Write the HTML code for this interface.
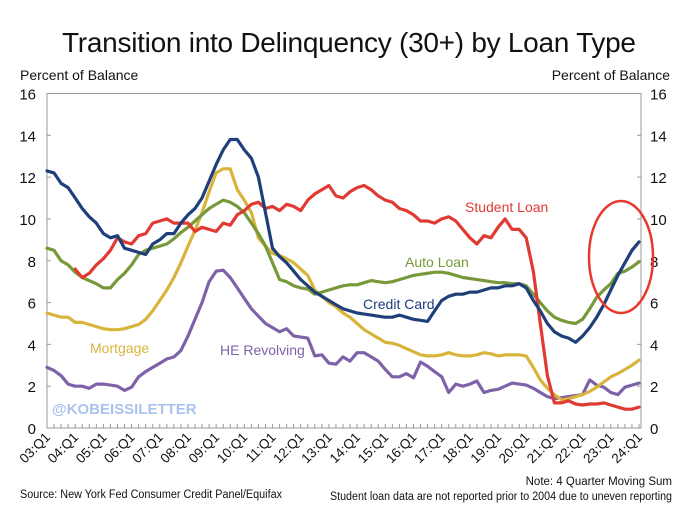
<!DOCTYPE html>
<html><head><meta charset="utf-8"><style>
body{margin:0;background:#fff;}
svg text{font-family:"Liberation Sans",Arial,sans-serif;}
</style></head><body>
<svg width="680" height="507" viewBox="0 0 680 507">
<text x="349" y="52" font-size="28" text-anchor="middle" fill="#111" textLength="574">Transition into Delinquency (30+) by Loan Type</text>
<text x="20" y="80" font-size="14" fill="#111">Percent of Balance</text>
<text x="670" y="80" font-size="14" fill="#111" text-anchor="end">Percent of Balance</text>
<g id="axes"></g>
<g id="series"></g>
<text x="52" y="414" font-size="15" font-weight="bold" fill="#aac2ee">@KOBEISSILETTER</text>
<text x="465" y="212" font-size="14" fill="#e03a33">Student Loan</text>
<text x="405" y="267" font-size="14" fill="#77993a">Auto Loan</text>
<text x="363" y="309" font-size="14" fill="#1f3f7a">Credit Card</text>
<text x="90" y="353" font-size="14" fill="#d9b43c">Mortgage</text>
<text x="220" y="355" font-size="14" fill="#7d62a8">HE Revolving</text>
<ellipse cx="621" cy="257" rx="32" ry="56" fill="none" stroke="#e8392e" stroke-width="2.5"/>
<text x="20" y="498" font-size="11.5" fill="#111" textLength="262" lengthAdjust="spacingAndGlyphs">Source: New York Fed Consumer Credit Panel/Equifax</text>
<text x="672" y="485" font-size="11.5" fill="#111" text-anchor="end">Note: 4 Quarter Moving Sum</text>
<text x="330" y="500" font-size="11.5" fill="#111" textLength="342" lengthAdjust="spacingAndGlyphs">Student loan data are not reported prior to 2004 due to uneven reporting</text>
</svg>
<script>
const yearLabels=["03:Q1","04:Q1","05:Q1","06:Q1","07:Q1","08:Q1","09:Q1","10:Q1","11:Q1","12:Q1","13:Q1","14:Q1","15:Q1","16:Q1","17:Q1","18:Q1","19:Q1","20:Q1","21:Q1","22:Q1","23:Q1","24:Q1"];
const yTicks=[0,2,4,6,8,10,12,14,16];
const creditCard=[12.3,12.2,11.7,11.5,11.0,10.5,10.1,9.8,9.3,9.1,9.2,8.6,8.5,8.4,8.3,8.8,9.0,9.3,9.3,9.8,10.2,10.5,11.0,11.8,12.6,13.3,13.8,13.8,13.3,12.9,12.0,10.3,8.6,8.2,7.9,7.5,7.1,6.8,6.5,6.3,6.1,5.9,5.7,5.6,5.5,5.45,5.4,5.35,5.3,5.3,5.4,5.3,5.2,5.15,5.1,5.6,6.1,6.3,6.4,6.4,6.5,6.5,6.6,6.7,6.7,6.8,6.8,6.9,6.7,6.1,5.6,5.0,4.6,4.4,4.3,4.1,4.4,4.8,5.3,5.9,6.6,7.3,7.9,8.5,8.9];
const studentLoan=[null,null,null,null,7.6,7.2,7.4,7.8,8.1,8.5,9.1,8.9,8.8,9.2,9.3,9.8,9.9,10.0,9.8,9.8,9.8,9.4,9.6,9.5,9.4,9.8,9.7,10.2,10.4,10.7,10.8,10.5,10.6,10.4,10.7,10.6,10.4,10.9,11.2,11.4,11.6,11.1,11.0,11.3,11.5,11.6,11.4,11.1,10.9,10.8,10.5,10.4,10.2,9.9,9.9,9.8,10.0,10.1,9.9,9.5,9.1,8.8,9.2,9.1,9.6,10.0,9.5,9.5,9.1,7.5,5.0,2.5,1.2,1.2,1.3,1.15,1.1,1.15,1.15,1.2,1.1,1.0,0.9,0.9,1.0];
const autoLoan=[8.6,8.5,8.0,7.8,7.45,7.2,7.05,6.9,6.7,6.7,7.1,7.4,7.8,8.3,8.5,8.6,8.7,8.8,9.05,9.35,9.6,9.9,10.2,10.5,10.7,10.9,10.8,10.6,10.3,9.8,9.3,8.7,7.9,7.1,7.0,6.8,6.7,6.65,6.4,6.5,6.6,6.7,6.8,6.85,6.85,6.95,7.05,7.0,6.95,7.0,7.1,7.2,7.3,7.35,7.4,7.45,7.45,7.4,7.3,7.2,7.15,7.1,7.05,7.0,6.95,6.95,6.9,6.9,6.8,6.4,6.0,5.6,5.3,5.15,5.05,5.0,5.2,5.7,6.25,6.6,6.9,7.4,7.5,7.7,7.95];
const mortgage=[5.5,5.4,5.3,5.3,5.05,5.05,4.95,4.85,4.75,4.7,4.7,4.75,4.85,4.95,5.2,5.6,6.1,6.6,7.2,7.9,8.7,9.45,10.3,11.3,12.2,12.4,12.4,11.4,10.9,10.3,9.1,8.7,8.35,8.25,8.1,7.9,7.6,7.3,6.6,6.3,6.0,5.8,5.5,5.3,5.0,4.7,4.5,4.3,4.1,4.05,3.95,3.8,3.65,3.5,3.45,3.45,3.5,3.6,3.5,3.45,3.45,3.5,3.6,3.55,3.45,3.5,3.5,3.5,3.45,2.9,2.3,1.9,1.6,1.35,1.4,1.5,1.6,1.75,1.95,2.2,2.45,2.6,2.8,3.0,3.25];
const heRevolving=[2.9,2.75,2.5,2.1,2.0,2.0,1.9,2.1,2.1,2.05,2.0,1.8,1.95,2.45,2.7,2.9,3.1,3.3,3.4,3.7,4.4,5.2,6.0,7.0,7.5,7.55,7.2,6.7,6.2,5.7,5.35,5.0,4.8,4.6,4.75,4.4,4.35,4.3,3.45,3.5,3.1,3.05,3.4,3.2,3.6,3.6,3.4,3.2,2.8,2.45,2.45,2.6,2.4,3.15,2.95,2.7,2.45,1.7,2.1,2.0,2.1,2.25,1.7,1.8,1.85,2.0,2.15,2.1,2.05,1.9,1.7,1.5,1.4,1.45,1.5,1.55,1.6,2.3,2.05,1.95,1.7,1.6,1.95,2.05,2.15];

const NS='http://www.w3.org/2000/svg';
const L=47,R=641,T=93.5,B=428,X0=47,X1=639,NQ=84,YMAX=16;
const xs=i=>X0+(X1-X0)*i/NQ;
const ys=v=>B-(B-T)*v/YMAX;
function mk(tag,attrs,parent){const e=document.createElementNS(NS,tag);for(const k in attrs)e.setAttribute(k,attrs[k]);parent.appendChild(e);return e;}
const ax=document.getElementById('axes');
const frame=mk('rect',{x:L,y:T,width:R-L,height:B-T,fill:'none',stroke:'#999','stroke-width':1},ax);


yTicks.forEach(v=>{
  const y=ys(v);
  const tl=mk('text',{x:36,y:y+6,'font-size':15,'text-anchor':'end',fill:'#111'},ax);tl.textContent=v;
  
  
  const tr=mk('text',{x:650,y:y+6,'font-size':15,fill:'#111'},ax);tr.textContent=v;
  
  
  mk('line',{x1:L,x2:L+4,y1:y,y2:y,stroke:'#999'},ax);
  mk('line',{x1:R-4,x2:R,y1:y,y2:y,stroke:'#999'},ax);
});
for(let i=0;i<=NQ;i++){mk('line',{x1:xs(i),x2:xs(i),y1:B,y2:B-4,stroke:'#999'},ax);}
yearLabels.forEach((lab,k)=>{
  const x=xs(k*4);
  const t=mk('text',{x:x+4,y:B+10,'font-size':13.5,'text-anchor':'end',fill:'#111',transform:`rotate(-45 ${x+4} ${B+10})`},ax);
  t.textContent=lab;
  
  
});
const sg=document.getElementById('series');
function line(arr,color,name){
  let d='',pen=false;
  arr.forEach((v,i)=>{if(v==null){pen=false;return;}d+=(pen?'L':'M')+xs(i).toFixed(1)+' '+ys(v).toFixed(1)+' ';pen=true;});
  const p=mk('path',{d:d,fill:'none',stroke:color,'stroke-width':3.2,'stroke-linejoin':'round','stroke-linecap':'round'},sg);
  
  
}
line(heRevolving,'#7d62a8','he-revolving-line');
line(mortgage,'#d9b43c','mortgage-line');
line(autoLoan,'#77993a','auto-loan-line');
line(studentLoan,'#e03a33','student-loan-line');
line(creditCard,'#1f3f7a','credit-card-line');
</script>
</body></html>
